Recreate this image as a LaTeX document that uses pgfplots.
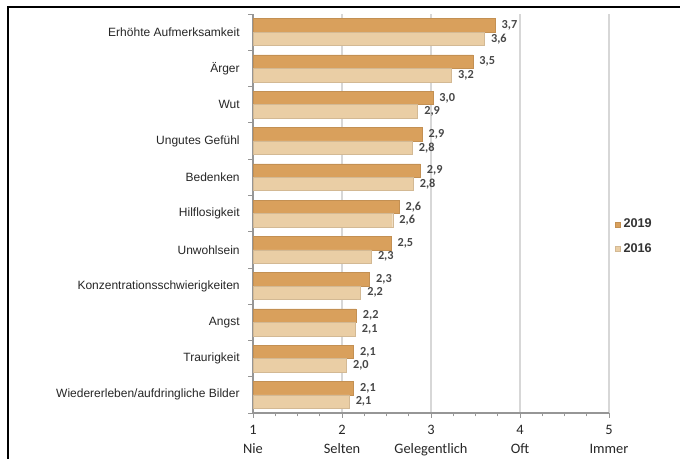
\documentclass[border=0pt]{standalone}
\usepackage{pgfplots}
\pgfplotsset{compat=1.18}
\usepackage{fontspec}
\setmainfont{Liberation Sans}
\newfontfamily\calibri{Carlito}
\definecolor{c19}{RGB}{217,160,92}
\definecolor{c16}{RGB}{234,206,165}
\definecolor{gridc}{RGB}{215,215,215}
\definecolor{axc}{RGB}{150,150,150}
\begin{document}
\begin{tikzpicture}
\path[use as bounding box] (0pt,0pt) rectangle (510pt,344.25pt);
\draw[line width=1.5pt] (6pt,-15pt) rectangle (525pt,339pt);
\begin{axis}[
  at={(189.75pt,34.5pt)}, anchor=south west,
  scale only axis, width=267pt, height=299.25pt,
  xmin=1, xmax=5, ymin=-0.5, ymax=10.5,
  xbar, bar width=10.1pt,
  axis x line*=bottom, axis y line*=left,
  axis line style={axc, line width=0.8pt},
  tick style={axc, line width=0.6pt},
  tick align=outside,
  major tick length=3.5pt, minor tick length=2.5pt,
  xtick={1,2,3,4,5},
  xticklabels={1,2,3,4,5},
  xticklabel style={font=\calibri\fontsize{10.8}{13}\selectfont, text=black!85, anchor=base, yshift=-12.5pt},
  extra x ticks={1,2,3,4,5},
  extra x tick labels={Nie, Selten, Gelegentlich, Oft, Immer},
  extra x tick style={grid=none, major tick length=0pt, xticklabel style={yshift=-18pt}},
  minor x tick num=3,
  xmajorgrids, major grid style={gridc, line width=0.8pt},
  ytick={-0.5,0.5,...,10.5}, yticklabels={},
  extra y ticks={0,1,2,3,4,5,6,7,8,9,10},
  extra y tick labels={Wiedererleben/aufdringliche Bilder, Traurigkeit, Angst, Konzentrationsschwierigkeiten, Unwohlsein, Hilflosigkeit, Bedenken, Ungutes Gefühl, Wut, Ärger, Erhöhte Aufmerksamkeit},
  extra y tick style={major tick length=0pt, yticklabel style={font=\fontsize{9}{11}\selectfont, text=black!85, xshift=-6.5pt}},
  nodes near coords, point meta=explicit symbolic,
  every node near coord/.append style={font=\calibri\bfseries\fontsize{9.2}{11}\selectfont, text=black!72, anchor=west, xshift=1.5pt},
  legend style={at={(1.012,0.442)}, anchor=west, draw=none, fill=none, font=\bfseries\fontsize{9.5}{11}\selectfont, row sep=6pt, text=black!80, inner sep=1pt},
  legend cell align=left,
  legend image code/.code={\fill[#1] (0pt,-2.1pt) rectangle (4.2pt,2.1pt);},
]
\addplot[fill=c19, draw=c19!90!black, line width=0.3pt, bar shift=5.05pt] table[x=x, y=y, meta=l] {
y x l
10 3.72 3,7
9 3.47 3,5
8 3.02 3,0
7 2.90 2,9
6 2.88 2,9
5 2.64 2,6
4 2.55 2,5
3 2.31 2,3
2 2.16 2,2
1 2.13 2,1
0 2.13 2,1
};
\addlegendentry{2019}
\addplot[fill=c16, draw=c16!90!black, line width=0.3pt, bar shift=-5.05pt] table[x=x, y=y, meta=l] {
y x l
10 3.60 3,6
9 3.23 3,2
8 2.85 2,9
7 2.79 2,8
6 2.80 2,8
5 2.57 2,6
4 2.33 2,3
3 2.21 2,2
2 2.15 2,1
1 2.05 2,0
0 2.08 2,1
};
\addlegendentry{2016}
\end{axis}
\end{tikzpicture}
\end{document}
